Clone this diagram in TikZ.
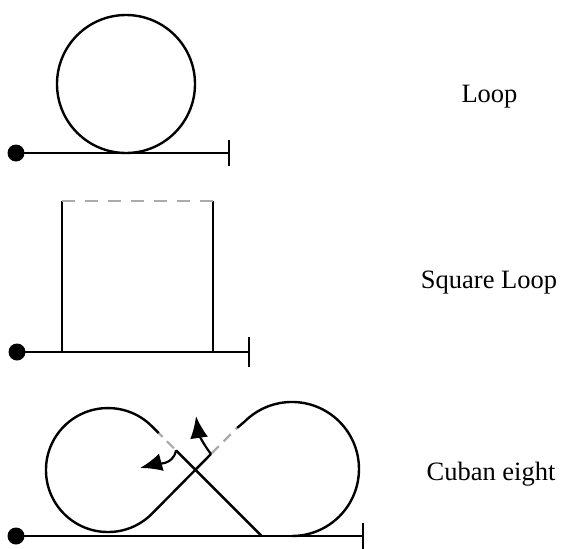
\documentclass[tikz,border=0pt]{standalone}
\usepackage{fontspec}
\setmainfont{Liberation Serif}
\usetikzlibrary{arrows.meta,positioning}

\begin{document}
\begin{tikzpicture}[x=0.5pt,y=0.5pt,
    track/.style={line width=1.2pt},
    ghost/.style={draw=black!33, line width=1.4pt, dash pattern=on 6.5pt off 5pt},
    pull/.style={line width=1.1pt, -{Latex[length=11pt,width=9pt]}},
    dot/.style={circle, fill, inner sep=0pt, minimum size=8.5pt},
    lbl/.style={anchor=base, font=\fontsize{13.25}{16}\selectfont}]
  \useasboundingbox (0,0) rectangle (561,548);

  % loop
  \node[dot] (s1) at (16,395) {};
  \coordinate[right=106.5pt of s1.center] (e1);
  \coordinate (c1) at (126,464);
  \draw[track] (s1.center) -- (e1);
  \draw[track] ([yshift=-6.5pt]e1) -- ([yshift=6.5pt]e1);
  \draw[track] (c1) circle[radius=34.5pt];
  \node[lbl] (loop) at (489.5,446) {Loop};

  % square loop
  \node[dot] (s2) at (17,196) {};
  \coordinate[right=116pt of s2.center] (e2);
  \coordinate (p1) at (62,196);
  \coordinate (p2) at (213,196);
  \coordinate[above=75.5pt of p1] (q1);
  \coordinate[above=75.5pt of p2] (q2);
  \draw[track] (s2.center) -- (e2);
  \draw[track] ([yshift=-7.5pt]e2) -- ([yshift=7.5pt]e2);
  \draw[track] (p1) -- (q1);
  \draw[track] (p2) -- (q2);
  \draw[ghost] (q1) -- (q2);
  \node[lbl] (sqloop) at (489,260) {Square Loop};

  % cuban eight
  \node[dot] (s3) at (16,12) {};
  \coordinate[right=173.5pt of s3.center] (e3);
  \coordinate (cl) at (108,78);
  \coordinate (cr) at (292,79);
  \coordinate (t1) at (151.8,121.8);
  \coordinate (t2) at (151.8,34.2);
  \coordinate (t3) at (244.6,126.4);
  \coordinate (g1) at (261.6,12);
  \coordinate (d1) at (176,97.6);
  \coordinate (h1) at (158.8,114.8);
  \coordinate (d2) at (211,94);
  \coordinate (h2) at (237,120);
  \coordinate (tip1) at (140,80);
  \coordinate (tip2) at (196,132);
  \draw[track] (s3.center) -- (e3);
  \draw[track] ([yshift=-6.5pt]e3) -- ([yshift=6.5pt]e3);
  \draw[track] (h1) -- (t1) arc[start angle=45, end angle=315, radius=31pt] -- (d2);
  \draw[track] (g1) -- (d1);
  \draw[track] (h2) -- (t3) arc[start angle=135, end angle=-90, radius=33.5pt];
  \draw[ghost, line width=1.1pt, dash pattern=on 5pt off 3pt, dash phase=6.5pt] (d1) -- (h1);
  \draw[ghost, line width=1.1pt, dash pattern=on 5pt off 3.5pt, dash phase=8pt] (d2) -- (h2);
  \draw[pull] (d1) to[out=-100, in=15] (tip1);
  \draw[pull] (d2) to[out=128, in=-82] (tip2);
  \node[lbl] (cuban) at (491,68) {Cuban eight};
\end{tikzpicture}
\end{document}
